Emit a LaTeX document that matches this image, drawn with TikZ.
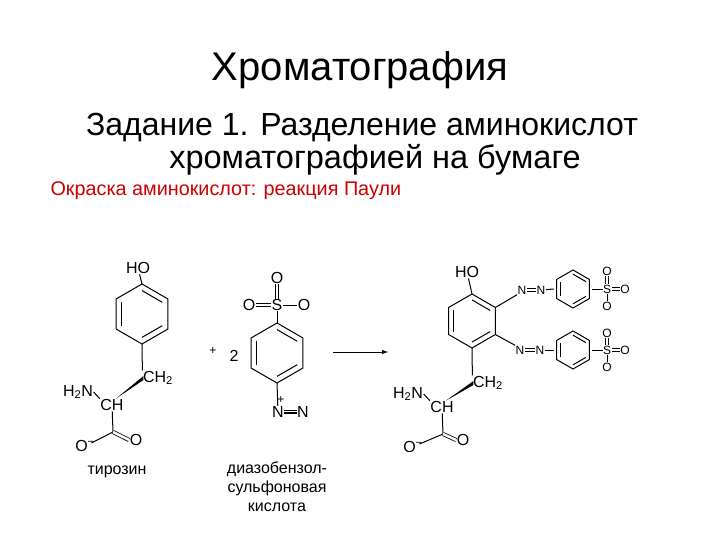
\documentclass[tikz,border=0pt]{standalone}
\usepackage{fontspec}
\setmainfont{Liberation Sans}
\usetikzlibrary{calc}
\tikzset{
  atom/.style={inner sep=0.5pt,font=\fontsize{16}{16}\selectfont},
  satom/.style={inner sep=0.3pt,font=\fontsize{12}{12}\selectfont},
  bond/.style={line width=1pt},
  dbl/.style={double,double distance=2.5pt,line width=0.8pt},
  lbl/.style={font=\fontsize{16}{19}\selectfont,align=center},
}
\newcommand{\myring}[4]{%
  \coordinate (#1) at (#2,#3);
  \foreach \a/\n in {270/t,330/tr,30/br,90/b,150/bl,210/tl}{\coordinate (#1-\n) at ($(#1)+(\a:#4)$);}
  \draw[bond] (#1-t)--(#1-tr)--(#1-br)--(#1-b)--(#1-bl)--(#1-tl)--cycle;
  \foreach \p/\q in {t/tr,br/b,bl/tl}{\draw[bond] ($(#1)!0.78!(#1-\p)$)--($(#1)!0.78!(#1-\q)$);}
}
\begin{document}
\begin{tikzpicture}[x=1pt,y=-1pt]
\useasboundingbox[fill=white] (0,0) rectangle (720,540);
\node (title) at (360,70) {\fontsize{40}{40}\selectfont Хроматография};
\node (t2) at (362,128) {\fontsize{32}{32}\selectfont Задание 1. Разделение аминокислот};
\node (t3) at (375,160) {\fontsize{32.5}{32.5}\selectfont хроматографией на бумаге};
\node[anchor=west,text=red!80!black] (t4) at (47,191) {\fontsize{19.8}{19.8}\selectfont Окраска аминокислот: реакция Паули};
% tyrosine
\myring{ra}{142}{314}{30}
\node[atom] (ho1) at (138,268) {HO};
\draw[bond] (ho1) -- (ra-t);
\node[atom] (ch2a) at (158,378) {CH\textsubscript{2}};
\draw[bond] (ra-b) -- (ch2a.north west);
\node[atom] (cha) at (112,405) {CH};
\node[atom] (nha) at (78,392) {H\textsubscript{2}N};
\draw[bond] (nha.east) -- (cha.north west);
\fill ($(cha.north)+(4,0)$) -- ($(ch2a.west)+(1,-2)$) -- ($(ch2a.west)+(1,2)$) -- cycle;
\coordinate (ca) at (113,432);
\draw[bond] (cha) -- (ca);
\node[atom] (oma) at (85,446) {O\textsuperscript{−}};
\node[atom] (oda) at (136,440) {O};
\draw[bond] (ca) -- ($(oma.east)+(-4,-3)$);
\draw[dbl] (ca) -- (oda.west);
\node[lbl] (ltyr) at (117,472) {тирозин};
% plus 2
\node[satom] (plus) at (213,351) {+};
\node[atom] (two) at (234,356) {2};
% diazo
\myring{rb}{277}{353}{30}
\node[atom] (s1) at (277,305) {S};
\node[atom] (os1) at (277,278) {O};
\node[atom] (ol1) at (249,305) {O};
\node[atom] (or1) at (304,305) {O};
\draw[dbl] (s1) -- (os1);
\draw[dbl] (s1) -- (ol1);
\draw[bond] (s1) -- (or1);
\draw[bond] (s1) -- (rb-t);
\node[atom] (n1) at (278,412) {N};
\node[satom] at (281,400) {+};
\node[atom] (n2) at (303,412) {N};
\draw[bond] (rb-b) -- (n1);
\draw[dbl] (n1) -- (n2);
\draw[bond] (n1) -- (n2);
\node[lbl] (ldia) at (277,487) {диазобензол-\\сульфоновая\\кислота};
% arrow
\coordinate (a1) at (333,352); \coordinate (a2) at (388,352);
\draw[bond,-latex] (a1) -- (a2);
% product
\myring{rc}{472}{321}{27}
\node[atom] (ho2) at (467,272) {HO};
\draw[bond] (ho2) -- (rc-t);
\node[atom] (ch2c) at (488,383) {CH\textsubscript{2}};
\draw[bond] (rc-b) -- (ch2c.north west);
\node[atom] (chc) at (442,407) {CH};
\node[atom] (nhc) at (408,394) {H\textsubscript{2}N};
\draw[bond] (nhc.east) -- (chc.north west);
\fill ($(chc.north)+(4,0)$) -- ($(ch2c.west)+(1,-2)$) -- ($(ch2c.west)+(1,2)$) -- cycle;
\coordinate (cc) at (443,434);
\draw[bond] (chc) -- (cc);
\node[atom] (omc) at (413,447) {O\textsuperscript{−}};
\node[atom] (odc) at (463,440) {O};
\draw[bond] (cc) -- ($(omc.east)+(-4,-3)$);
\draw[dbl] (cc) -- (odc.west);
% upper azo
\node[satom] (nu1) at (522,290) {N};
\node[satom] (nu2) at (541,290) {N};
\draw[bond] (rc-tr) -- (nu1.south west);
\draw[dbl] (nu1) -- (nu2);
\myring{rd}{573}{289}{19}
\draw[bond] (nu2) -- ($(rd)+(180:19)$);
\node[satom] (su) at (607,289) {S};
\node[satom] (su1) at (607,271) {O};
\node[satom] (su2) at (607,306) {O};
\node[satom] (su3) at (625,289) {O};
\draw[bond] ($(rd)+(0:19)$) -- (su);
\draw[dbl] (su) -- (su1); \draw[dbl] (su) -- (su3); \draw[bond] (su) -- (su2);
% lower azo
\node[satom] (nl1) at (520,350) {N};
\node[satom] (nl2) at (540,350) {N};
\draw[bond] (rc-br) -- (nl1.north west);
\draw[dbl] (nl1) -- (nl2);
\myring{re}{573}{350}{19}
\draw[bond] (nl2) -- ($(re)+(180:19)$);
\node[satom] (sl) at (607,350) {S};
\node[satom] (sl1) at (607,333) {O};
\node[satom] (sl2) at (607,367) {O};
\node[satom] (sl3) at (625,350) {O};
\draw[bond] ($(re)+(0:19)$) -- (sl);
\draw[dbl] (sl) -- (sl1); \draw[dbl] (sl) -- (sl3); \draw[bond] (sl) -- (sl2);
\end{tikzpicture}
\end{document}
